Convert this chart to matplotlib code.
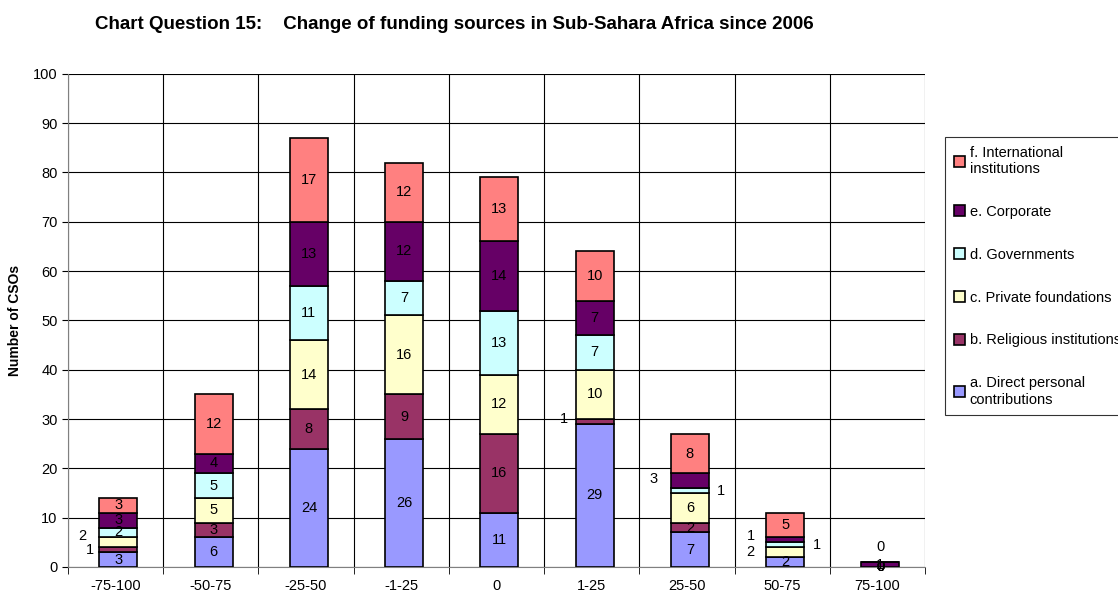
import numpy as np
import matplotlib.pyplot as plt

plt.rcParams['font.family'] = ['Liberation Sans', 'DejaVu Sans']

# ---- data ----
categories = ["-75-100", "-50-75", "-25-50", "-1-25", "0", "1-25", "25-50", "50-75", "75-100"]
direct_personal = [3, 6, 24, 26, 11, 29, 7, 2, 0]
religious = [1, 3, 8, 9, 16, 1, 2, 0, 0]
private_found = [2, 5, 14, 16, 12, 10, 6, 2, 0]
governments = [2, 5, 11, 7, 13, 7, 1, 1, 0]
corporate = [3, 4, 13, 12, 14, 7, 3, 1, 1]
international = [3, 12, 17, 12, 13, 10, 8, 5, 0]

series = [
    ("a. Direct personal\ncontributions", direct_personal, "#9999FF"),
    ("b. Religious institutions", religious, "#993366"),
    ("c. Private foundations", private_found, "#FFFFCC"),
    ("d. Governments", governments, "#CCFFFF"),
    ("e. Corporate", corporate, "#660066"),
    ("f. International\ninstitutions", international, "#FF8080"),
]

# labels moved beside the bar: (category, series) -> (dx, dy) in data units
label_shift = {
    (0, 1): (-0.3, 0.0), (0, 2): (-0.38, 1.2),
    (5, 1): (-0.32, 0.6),
    (6, 3): (0.33, 0.0), (6, 4): (-0.38, 0.3),
    (7, 2): (-0.36, 0.0), (7, 3): (0.33, 0.0), (7, 4): (-0.36, 0.7),
    (8, 5): (0.0, 3.0),
}

fig = plt.figure(figsize=(11.18, 5.9), dpi=100)
ax = fig.add_axes([0.0608, 0.039, 0.7666, 0.836])

x = np.arange(len(categories))
bottom = np.zeros(len(categories))
handles = []
for si, (name, vals, col) in enumerate(series):
    vals = np.array(vals, dtype=float)
    b = ax.bar(x + 0.03, vals, 0.4, bottom=bottom, color=col, edgecolor="black",
               linewidth=1.2, label=name, zorder=3)
    handles.append(b)
    for i, v in enumerate(vals):
        if v == 0 and i != 8:
            continue
        dx, dy = label_shift.get((i, si), (0.0, 0.0))
        ax.text(x[i] + 0.03 + dx, bottom[i] + v / 2 + dy, f"{int(v)}", ha="center",
                va="center", fontsize=10.5, color="black", zorder=4)
    bottom += vals

ax.set_xlim(-0.5, len(categories) - 0.5)
ax.set_ylim(0, 100)
ax.set_yticks(range(0, 101, 10))
ax.set_xticks(x)
ax.set_xticklabels(categories, fontsize=10.5)
ax.tick_params(axis="y", labelsize=10.5, length=4)
ax.tick_params(axis="x", length=0, pad=9)
ax.set_xticks(np.arange(-0.5, len(categories), 1), minor=True)
ax.tick_params(axis="x", which="minor", length=5, direction="out")
ax.grid(axis="y", color="black", linewidth=0.8, zorder=0)
ax.grid(axis="x", which="minor", color="black", linewidth=0.8, zorder=0)
for s in ["top", "right"]:
    ax.spines[s].set_visible(False)
ax.spines["left"].set_color("#808080")
ax.spines["bottom"].set_color("#808080")

ax.set_ylabel("Number of CSOs", fontsize=10, fontweight="bold", labelpad=8)

fig.text(0.085, 0.958, "Chart Question 15:    Change of funding sources in Sub-Sahara Africa since 2006",
         fontsize=13.5, fontweight="bold", va="center", ha="left")

leg = fig.legend(handles[::-1], [s[0] for s in series][::-1], loc="upper left",
                 bbox_to_anchor=(945 / 1118, 1 - 137 / 590), fontsize=10.5,
                 frameon=True, fancybox=False, edgecolor="black", borderaxespad=0,
                 labelspacing=1.98, handlelength=0.8, handleheight=0.8,
                 handletextpad=0.3, borderpad=0.6)
leg.get_frame().set_linewidth(0.8)

fig.savefig("out.png", dpi=100)
